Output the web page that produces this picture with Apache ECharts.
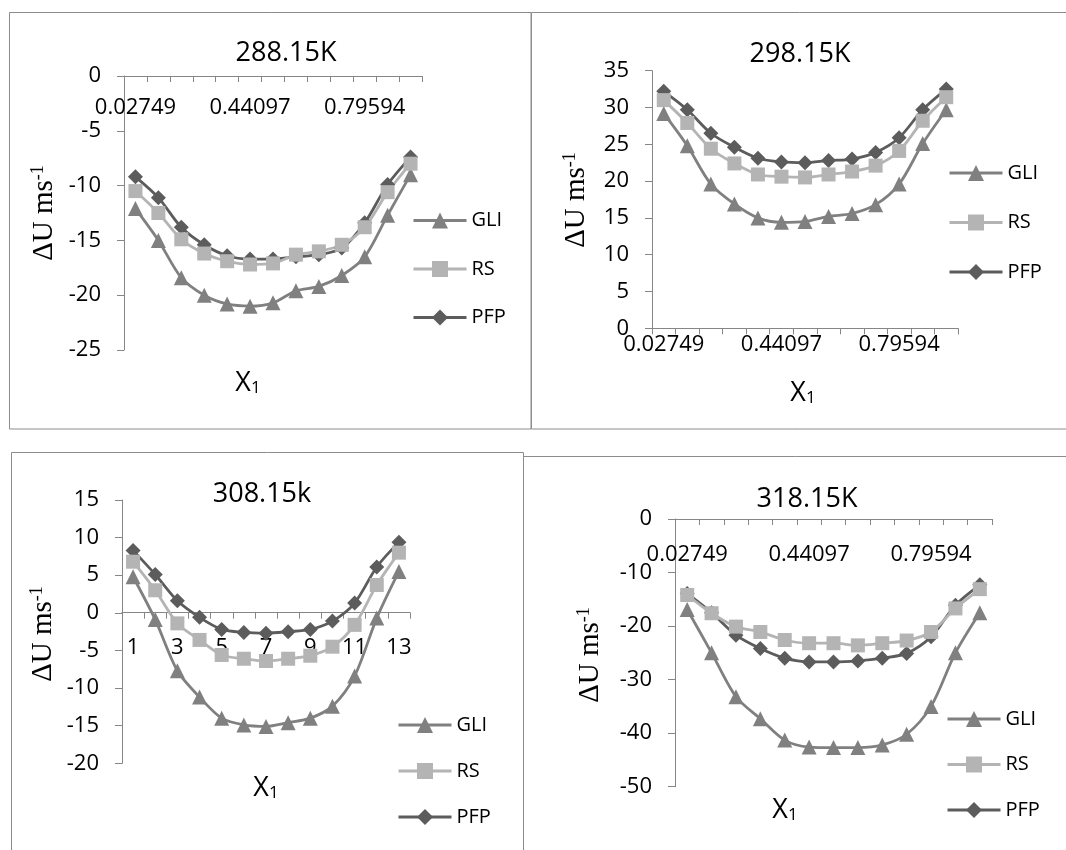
<!DOCTYPE html>
<html><head><meta charset="utf-8">
<script src="https://cdn.jsdelivr.net/npm/echarts@6/dist/echarts.min.js"></script>
<style>html,body{margin:0;padding:0;background:#fff}#c{width:1066px;height:850px}</style>
</head><body><div id="c"></div>
<script>
// ---- data ----
const seriesNames = ['GLI', 'RS', 'PFP'];
const x1Labels = ['0.02749', '', '', '', '', '0.44097', '', '', '', '', '0.79594', '', ''];
const pointLabels = ['1', '2', '3', '4', '5', '6', '7', '8', '9', '10', '11', '12', '13'];
const titles = ['288.15K', '298.15K', '308.15k', '318.15K'];

const gli288 = [-12.1, -15.0, -18.4, -20.0, -20.8, -21.0, -20.7, -19.6, -19.2, -18.2, -16.5, -12.7, -9.0];
const rs288  = [-10.5, -12.5, -14.9, -16.2, -16.9, -17.2, -17.1, -16.3, -16.0, -15.4, -13.8, -10.6, -8.0];
const pfp288 = [-9.2, -11.1, -13.8, -15.4, -16.4, -16.7, -16.7, -16.5, -16.3, -15.7, -13.4, -9.9, -7.4];

const gli298 = [29.2, 24.8, 19.6, 16.9, 15.0, 14.4, 14.5, 15.2, 15.6, 16.8, 19.6, 25.1, 29.7];
const rs298  = [31.0, 27.9, 24.4, 22.4, 20.9, 20.6, 20.5, 20.9, 21.3, 22.1, 24.1, 28.2, 31.4];
const pfp298 = [32.2, 29.7, 26.5, 24.6, 23.1, 22.6, 22.5, 22.8, 23.0, 23.9, 25.9, 29.7, 32.5];

const gli308 = [4.8, -0.9, -7.7, -11.2, -14.0, -14.9, -15.1, -14.6, -14.0, -12.4, -8.4, -0.7, 5.5];
const rs308  = [6.8, 3.0, -1.4, -3.6, -5.6, -6.1, -6.4, -6.1, -5.7, -4.5, -1.6, 3.7, 8.0];
const pfp308 = [8.3, 5.1, 1.6, -0.6, -2.2, -2.6, -2.7, -2.5, -2.2, -1.1, 1.3, 6.1, 9.4];

const gli318 = [-16.9, -25.0, -33.2, -37.3, -41.3, -42.6, -42.7, -42.7, -42.2, -40.2, -35.0, -25.0, -17.5];
const rs318  = [-14.2, -17.6, -20.1, -21.1, -22.6, -23.2, -23.2, -23.6, -23.2, -22.7, -21.1, -16.7, -13.1];
const pfp318 = [-13.9, -17.5, -21.7, -24.2, -26.0, -26.7, -26.7, -26.5, -26.0, -25.1, -22.0, -16.1, -12.3];

const yRanges = [[-25, 0, 5], [0, 35, 5], [-20, 15, 5], [-50, 0, 10]];

// ---- styles / layout ----
const SANS = 'Open Sans';
const SERIF = 'Liberation Serif';
const AX = '#868686';
const styles = {
  GLI: {color: '#808080', symbol: 'triangle', size: 15},
  RS:  {color: '#b4b4b4', symbol: 'rect', size: 14},
  PFP: {color: '#5c5c5c', symbol: 'diamond', size: 15}
};
// axis crossing: where the category axis sits (Excel draws it at y = 0)
const panels = [
  {grid: {left: 124, top: 76, width: 298, height: 274}, cats: x1Labels, lblInt: 4,
   xPos: 'top', xOffset: 0, inside: true, lblMargin: 21,
   data: {GLI: gli288, RS: rs288, PFP: pfp288}, title: [286, 53], legend: [412, 210.5, 28.5],
   yName: [44, 213], xName: [248, 383]},
  {grid: {left: 652, top: 70.7, width: 306, height: 257.6}, cats: x1Labels, lblInt: 4,
   xPos: 'bottom', xOffset: 0, inside: false, lblMargin: 5,
   data: {GLI: gli298, RS: rs298, PFP: pfp298}, title: [800, 54], legend: [948, 163, 29.5],
   yName: [576, 200], xName: [803, 393]},
  {grid: {left: 122, top: 500, width: 288, height: 263.3}, cats: pointLabels, lblInt: 1,
   xPos: 'bottom', xOffset: -150.6, inside: false, lblMargin: 24,
   data: {GLI: gli308, RS: rs308, PFP: pfp308}, title: [262, 494], legend: [397, 715, 26],
   yName: [43, 634], xName: [266, 788]},
  {grid: {left: 675, top: 519, width: 317, height: 267.7}, cats: x1Labels, lblInt: 4,
   xPos: 'top', xOffset: 0, inside: true, lblMargin: 25,
   data: {GLI: gli318, RS: rs318, PFP: pfp318}, title: [807, 499], legend: [946, 709, 25.5],
   yName: [590, 655], xName: [785, 810]}
];

const grid = [], xAxis = [], yAxis = [], series = [], title = [], legend = [], graphic = [];

// panel borders
[[9.5, 12.5, 521.5, 416.5], [531.5, 12.5, 540, 416.5], [11.5, 452.5, 512, 410], [523.5, 456.5, 550, 410]]
  .forEach(r => graphic.push({type: 'rect', shape: {x: r[0], y: r[1], width: r[2], height: r[3]},
    style: {fill: 'none', stroke: '#8c8c8c', lineWidth: 1}, z: 0, silent: true}));

panels.forEach((p, i) => {
  grid.push(Object.assign({containLabel: false}, p.grid));
  xAxis.push({
    type: 'category', gridIndex: i, data: p.cats, boundaryGap: true,
    position: p.xPos, offset: p.xOffset,
    axisLine: {onZero: false, lineStyle: {color: AX, width: 1}},
    axisTick: {show: true, interval: 0, length: 6, inside: p.inside, lineStyle: {color: AX}},
    axisLabel: {interval: p.lblInt, inside: p.inside, margin: p.lblMargin, color: '#000', fontFamily: SANS, fontSize: 22},
    splitLine: {show: false}
  });
  yAxis.push({
    type: 'value', gridIndex: i, min: yRanges[i][0], max: yRanges[i][1], interval: yRanges[i][2],
    axisLine: {show: true, onZero: false, lineStyle: {color: AX, width: 1}},
    axisTick: {show: true, length: 7, lineStyle: {color: AX}},
    axisLabel: {margin: 23, color: '#000', fontFamily: SANS, fontSize: 22},
    splitLine: {show: false}
  });
  title.push({text: titles[i], left: p.title[0], top: p.title[1], textAlign: 'center', textVerticalAlign: 'middle',
    padding: 0, textStyle: {fontFamily: SANS, fontSize: 27, fontWeight: 'normal', color: '#000'}});
  legend.push({
    data: seriesNames, orient: 'vertical', left: p.legend[0], top: p.legend[1], itemGap: p.legend[2],
    itemWidth: 53, itemHeight: 20, padding: 0, selectedMode: false,
    lineStyle: {width: 3},
    textStyle: {fontFamily: SANS, fontSize: 20, color: '#000'}
  });
  // draw order: PFP bottom, GLI, RS on top
  ['PFP', 'GLI', 'RS'].forEach(name => {
    const s = styles[name];
    series.push({
      type: 'line', name: name, xAxisIndex: i, yAxisIndex: i, data: p.data[name],
      smooth: 0.3, symbol: s.symbol, symbolSize: s.size, showAllSymbol: true,
      lineStyle: {color: s.color, width: 2.8}, itemStyle: {color: s.color},
      emphasis: {disabled: true}
    });
  });
  graphic.push({type: 'text', x: p.yName[0], y: p.yName[1], rotation: Math.PI / 2, silent: true,
    style: {text: '{a|ΔU ms}{s|-1}', align: 'center', verticalAlign: 'middle',
      rich: {a: {fontFamily: SERIF, fontSize: 29, fill: '#000'},
             s: {fontFamily: SERIF, fontSize: 18, fill: '#000', verticalAlign: 'top'}}}});
  graphic.push({type: 'text', x: p.xName[0], y: p.xName[1], silent: true,
    style: {text: '{a|X}{b|1}', align: 'center', verticalAlign: 'middle',
      rich: {a: {fontFamily: SANS, fontSize: 27, fill: '#000'},
             b: {fontFamily: SANS, fontSize: 17, fill: '#000', verticalAlign: 'bottom', padding: [6, 0, 0, 0]}}}});
});

const chart = echarts.init(document.getElementById('c'), null, {renderer: 'canvas'});
chart.setOption({animation: false, backgroundColor: '#fff', grid, xAxis, yAxis, series, title, legend, graphic});
</script>
</body></html>
